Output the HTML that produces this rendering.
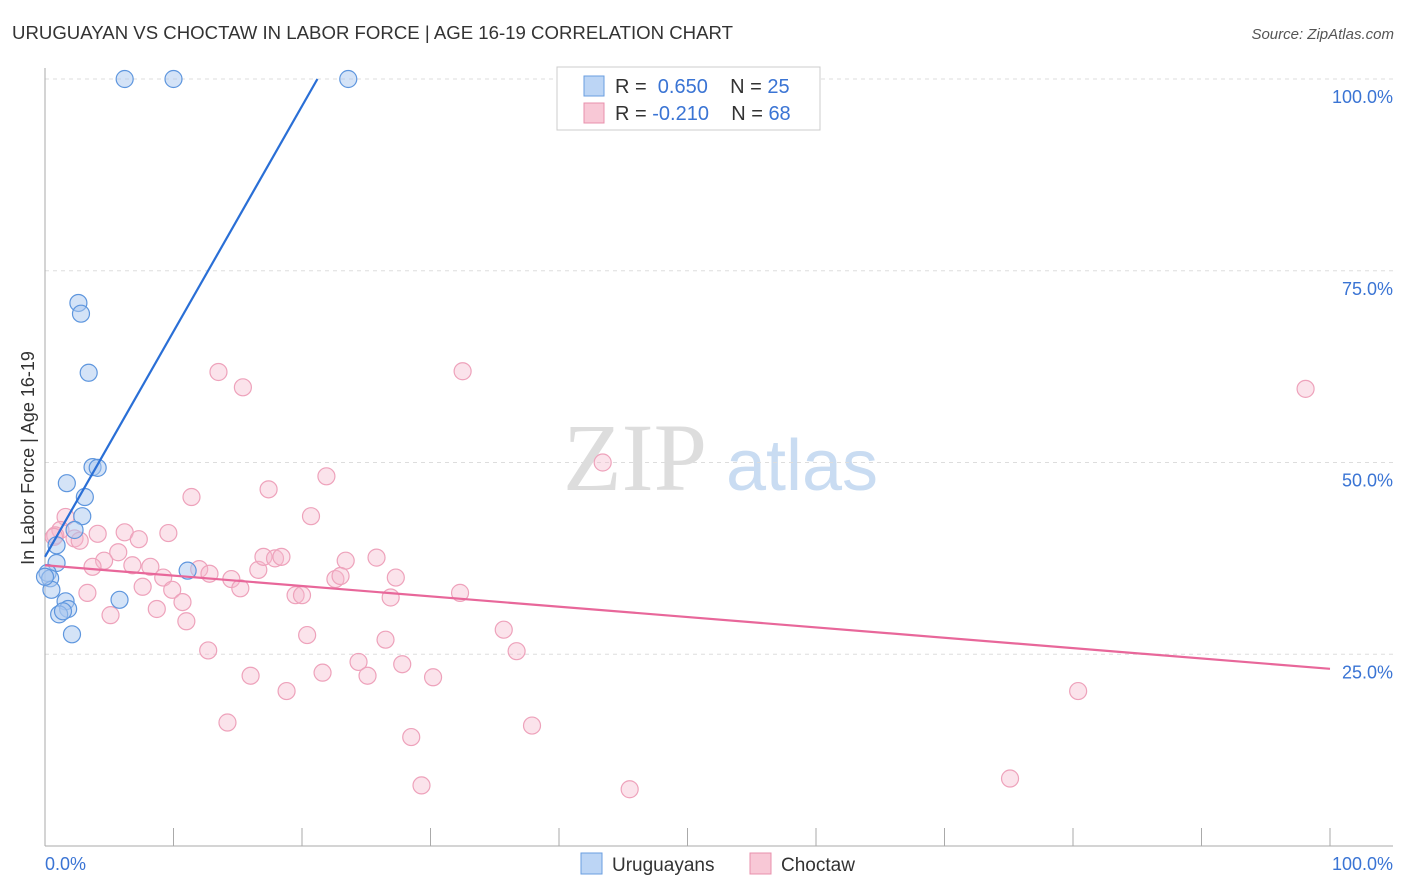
<!DOCTYPE html>
<html><head><meta charset="utf-8"><style>
body{margin:0;background:#fff;font-family:"Liberation Sans",sans-serif;}
#wrap{position:relative;width:1406px;height:892px;overflow:hidden;}
</style></head><body><div id="wrap">
<svg id="svg" width="1406" height="892" xmlns="http://www.w3.org/2000/svg">
<text x="12" y="39" font-size="18" fill="#333" textLength="721" lengthAdjust="spacingAndGlyphs">URUGUAYAN VS CHOCTAW IN LABOR FORCE | AGE 16-19 CORRELATION CHART</text>
<text x="1394" y="39" font-size="15" fill="#555" font-style="italic" text-anchor="end">Source: ZipAtlas.com</text>
<text x="635" y="490" font-size="96" fill="#ddd" font-family="Liberation Serif" text-anchor="middle">ZIP</text>
<text x="802" y="490" font-size="72" fill="#c9dcf2" text-anchor="middle">atlas</text>
<text transform="translate(34,458) rotate(-90)" font-size="18" fill="#333" text-anchor="middle">In Labor Force | Age 16-19</text>
<g id="grid"></g><g id="pts"></g><g id="lines"></g>
<g>
<rect x="557" y="67" width="263" height="63" fill="#fff" stroke="#ccc"/>
<rect x="584" y="76" width="20" height="20" fill="#bcd5f5" stroke="#6a9ee0"/>
<rect x="584" y="103" width="20" height="20" fill="#f8c8d6" stroke="#e890ac"/>
<text x="615" y="93" font-size="20" fill="#333">R = <tspan fill="#3a74d4">&#160;0.650</tspan>&#160;&#160;&#160;&#160;N = <tspan fill="#3a74d4">25</tspan></text>
<text x="615" y="120" font-size="20" fill="#333">R = <tspan fill="#3a74d4">-0.210</tspan>&#160;&#160;&#160;&#160;N = <tspan fill="#3a74d4">68</tspan></text>
</g>
<g>
<rect x="581" y="853" width="21" height="21" fill="#bcd5f5" stroke="#6a9ee0"/>
<text x="612" y="871" font-size="19" fill="#333">Uruguayans</text>
<rect x="750" y="853" width="21" height="21" fill="#f8c8d6" stroke="#e890ac"/>
<text x="781" y="871" font-size="19" fill="#333">Choctaw</text>
</g>
<text x="45" y="870" font-size="18" fill="#3a74d4">0.0%</text>
<text x="1393" y="870" font-size="18" fill="#3a74d4" text-anchor="end">100.0%</text>
</svg></div>
<script>
const yTicks=[100,75,50,25];
const yTickLabels=["100.0%","75.0%","50.0%","25.0%"];
const blueX=[6.2,10,23.6,2.6,2.8,3.4,3.7,4.1,1.7,3.1,2.9,2.3,0.9,0.9,0.2,0.4,0.5,1.6,1.8,1.1,1.4,2.1,5.8,11.1,0];
const blueY=[100,100,100,70.8,69.4,61.7,49.4,49.3,47.3,45.5,43,41.2,39.2,36.9,35.6,34.9,33.4,31.9,30.9,30.2,30.6,27.6,32.1,35.9,35.1];
const pinkX=[13.5,15.4,32.5,98.1,43.4,11.4,21.9,17.4,20.7,1.6,1.2,0.8,2.3,2.7,4.1,6.2,7.3,9.6,5.7,4.6,3.7,6.8,8.2,9.2,7.6,9.9,12,12.8,14.5,15.2,16.6,17.0,17.9,18.4,23.4,25.8,22.6,23.0,27.3,26.9,19.5,20,10.7,8.7,11,5.1,3.3,20.4,26.5,35.7,32.3,36.7,12.7,16,21.6,18.8,24.4,25.1,27.8,30.2,14.2,28.5,37.9,80.4,29.3,45.5,75.1,0.7];
const pinkY=[61.8,59.8,61.9,59.6,50,45.5,48.2,46.5,43,42.9,41.2,40.5,40.1,39.8,40.7,40.9,40,40.8,38.3,37.2,36.4,36.6,36.4,35,33.8,33.4,36.1,35.5,34.8,33.6,36,37.7,37.5,37.7,37.2,37.6,34.8,35.2,35,32.4,32.7,32.7,31.8,30.9,29.3,30.1,33,27.5,26.9,28.2,33,25.4,25.5,22.2,22.6,20.2,24,22.2,23.7,22,16.1,14.2,15.7,20.2,7.9,7.4,8.8,40.3];
const blueLineX=[0,21.2], blueLineY=[37.7,100];
const pinkLineX=[0,100], pinkLineY=[36.6,23.1];
const NS="http://www.w3.org/2000/svg";
const X=v=>45+v*12.85, Y=v=>846-v*7.67;
function mk(tag,attrs,parent){const e=document.createElementNS(NS,tag);for(const k in attrs)e.setAttribute(k,attrs[k]);parent.appendChild(e);return e;}
const grid=document.getElementById('grid');
yTicks.forEach((t,i)=>{
 const l=mk('line',{x1:45,x2:1393,y1:Y(t),y2:Y(t),stroke:'#ddd','stroke-dasharray':'4,4'},grid);
 
 
 const tx=mk('text',{x:1393,y:Y(t)+24,'font-size':18,fill:'#3a74d4','text-anchor':'end'},grid);
 tx.textContent=yTickLabels[i];
 
 
});
const ax=mk('line',{x1:45,x2:45,y1:68,y2:846,stroke:'#aaa'},grid);


const bx=mk('line',{x1:45,x2:1393,y1:846,y2:846,stroke:'#aaa'},grid);


for(let i=0;i<=10;i++){const t=mk('line',{x1:X(i*10),x2:X(i*10),y1:828,y2:846,stroke:'#aaa'},grid);
 
 }
const pts=document.getElementById('pts');
pinkX.forEach((v,i)=>{const c=mk('circle',{cx:X(v),cy:Y(pinkY[i]),r:8.5,fill:'rgba(246,185,205,0.4)',stroke:'#eea2bb','stroke-width':1.2},pts);
 
 });
blueX.forEach((v,i)=>{const c=mk('circle',{cx:X(v),cy:Y(blueY[i]),r:8.5,fill:'rgba(170,200,240,0.5)',stroke:'#5e96de','stroke-width':1.2},pts);
 
 });
const lines=document.getElementById('lines');
const bl=mk('line',{x1:X(blueLineX[0]),y1:Y(blueLineY[0]),x2:X(blueLineX[1]),y2:Y(blueLineY[1]),stroke:'#2a6fd6','stroke-width':2.2},lines);


const pl=mk('line',{x1:X(pinkLineX[0]),y1:Y(pinkLineY[0]),x2:X(pinkLineX[1]),y2:Y(pinkLineY[1]),stroke:'#e8679a','stroke-width':2.2},lines);


</script></body></html>
